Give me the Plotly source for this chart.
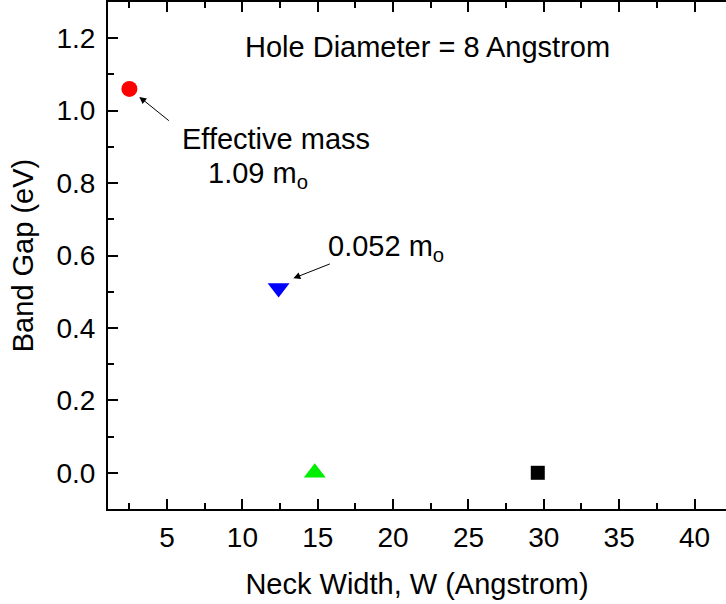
import plotly.graph_objects as go

# Neck width (Angstrom) and band gap (eV) for each structure
neck_width = [2.5, 12.4, 14.8, 29.6]
band_gap = [1.06, 0.51, 0.0, 0.0]
marker_symbols = ["circle", "triangle-down", "triangle-up", "square"]
marker_colors = ["#ff0000", "#0000ff", "#00ee00", "#000000"]
marker_sizes = [16, 19, 19, 14]

x_ticks = [5, 10, 15, 20, 25, 30, 35, 40]
y_ticks = [0.0, 0.2, 0.4, 0.6, 0.8, 1.0, 1.2]

FONT = "Liberation Sans, Arial, sans-serif"

fig = go.Figure()
for xv, yv, sym, col, sz in zip(neck_width, band_gap, marker_symbols, marker_colors, marker_sizes):
    fig.add_trace(go.Scatter(
        x=[xv], y=[yv], mode="markers",
        marker=dict(symbol=sym, color=col, size=sz, line=dict(width=0)),
        showlegend=False,
    ))

axis_common = dict(
    showline=True, linecolor="black", linewidth=2,
    ticks="inside", ticklen=10, tickwidth=2, tickcolor="black",
    showgrid=False, zeroline=False,
    tickfont=dict(family=FONT, size=28, color="black"),
)

fig.update_xaxes(
    **axis_common,
    range=[1.08, 42.09], tickvals=x_ticks, mirror="ticks",
    ticklabelstandoff=2,
    minor=dict(ticks="inside", ticklen=6, tickwidth=2, tickcolor="black", dtick=2.5, tick0=0),
    title=dict(text="Neck Width, W (Angstrom)", font=dict(family=FONT, size=29, color="black"), standoff=22),
)
fig.update_yaxes(
    **axis_common,
    range=[-0.1, 1.3], tickvals=y_ticks, tickformat=".1f",
    ticklabelstandoff=5,
    minor=dict(ticks="inside", ticklen=6, tickwidth=2, tickcolor="black", dtick=0.1, tick0=0),
    title=dict(text="Band Gap (eV)", font=dict(family=FONT, size=29, color="black"), standoff=14),
)

txt = dict(family=FONT, size=29, color="black")
fig.add_annotation(x=22.25, y=1.176, text="Hole Diameter = 8 Angstrom", showarrow=False,
                   font=txt, xanchor="center", yanchor="middle")
fig.add_annotation(x=3.16, y=1.038, ax=31, ay=25, axref="pixel", ayref="pixel",
                   text="", showarrow=True, arrowhead=2, arrowsize=1.4, arrowwidth=1, arrowcolor="black")
fig.add_annotation(x=5.85, y=0.921, text="Effective mass", showarrow=False,
                   font=txt, xanchor="left", yanchor="middle")
fig.add_annotation(x=7.6, y=0.822, text="1.09 m<sub>o</sub>", showarrow=False,
                   font=txt, xanchor="left", yanchor="middle")
fig.add_annotation(x=13.38, y=0.537, ax=38, ay=-15, axref="pixel", ayref="pixel",
                   text="", showarrow=True, arrowhead=2, arrowsize=1.4, arrowwidth=1, arrowcolor="black")
fig.add_annotation(x=15.55, y=0.622, text="0.052 m<sub>o</sub>", showarrow=False,
                   font=txt, xanchor="left", yanchor="middle")

fig.update_layout(
    width=726, height=604,
    margin=dict(l=108, r=0, t=0, b=95),
    paper_bgcolor="white", plot_bgcolor="white",
    font=dict(family=FONT, color="black"),
)

fig.write_html("out.html")
